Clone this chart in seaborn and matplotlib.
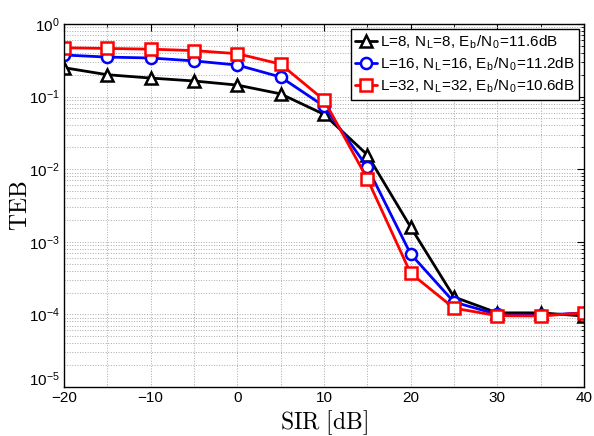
import matplotlib
matplotlib.use("Agg")
import matplotlib.pyplot as plt
import matplotlib.transforms as mtrans
import seaborn as sns
import numpy as np
import pandas as pd
from matplotlib.ticker import LogLocator, MultipleLocator, NullFormatter

sir = [-20, -15, -10, -5, 0, 5, 10, 15, 20, 25, 30, 35, 40]
teb_l8 = [0.25, 0.20, 0.18, 0.164, 0.144, 0.109, 0.057, 0.0158, 0.0016, 1.74e-4, 1.05e-4, 1.05e-4, 0.95e-4]
teb_l16 = [0.374, 0.35, 0.34, 0.31, 0.272, 0.186, 0.074, 0.0107, 6.8e-4, 1.48e-4, 1.0e-4, 0.97e-4, 1.05e-4]
teb_l32 = [0.47, 0.46, 0.45, 0.43, 0.39, 0.28, 0.09, 0.0074, 3.7e-4, 1.22e-4, 0.96e-4, 0.95e-4, 1.05e-4]
labels = [r'L=8, N$_\mathregular{L}$=8, E$_\mathregular{b}$/N$_\mathregular{0}$=11.6dB',
          r'L=16, N$_\mathregular{L}$=16, E$_\mathregular{b}$/N$_\mathregular{0}$=11.2dB',
          r'L=32, N$_\mathregular{L}$=32, E$_\mathregular{b}$/N$_\mathregular{0}$=10.6dB']

sns.set_style("white")
plt.rcParams['font.family'] = ['Liberation Sans', 'DejaVu Sans']
plt.rcParams['mathtext.fontset'] = 'cm'

fig = plt.figure(figsize=(5.94, 4.36), dpi=100)
ax = fig.add_axes([0.1077, 0.1124, 0.8753, 0.8326])

series = [(teb_l8, 'black', '^'), (teb_l16, 'blue', 'o'), (teb_l32, 'red', 's')]
for (vals, col, mk), lab in zip(series, labels):
    df = pd.DataFrame({'SIR': sir, 'TEB': vals})
    sns.lineplot(data=df, x='SIR', y='TEB', ax=ax, color=col, marker=mk,
                 markersize=8, markerfacecolor='white', markeredgecolor=col,
                 markeredgewidth=1.8, linewidth=2, label=lab)

ax.set_yscale('log')
ax.set_xlim(-20, 40)
ax.set_ylim(1e-5, 1)
ax.xaxis.set_major_locator(MultipleLocator(10))
ax.xaxis.set_minor_locator(MultipleLocator(5))
ax.yaxis.set_major_locator(LogLocator(base=10, numticks=10))
ax.yaxis.set_minor_locator(LogLocator(base=10, subs=np.arange(2, 10), numticks=20))
ax.yaxis.set_minor_formatter(NullFormatter())
ax.grid(True, which='both', linestyle=':', color='#aaaaaa', linewidth=0.7)
ax.tick_params(which='both', direction='in', top=True, right=True, labelsize=11,
               colors='black', pad=3)
ax.tick_params(which='major', length=5)
ax.tick_params(which='minor', length=2.5)
for s in ax.spines.values():
    s.set_color('black')
    s.set_linewidth(1)

ax.set_xlabel(r'$\mathrm{SIR\ [dB]}$', fontsize=17, color='black')
ax.set_ylabel(r'$\mathrm{TEB}$', fontsize=17, color='black')
ax.xaxis.set_label_coords(0.5, -0.058)
ax.yaxis.set_label_coords(-0.062, 0.5)

leg = ax.legend(loc='upper right', fontsize=11, frameon=True, fancybox=False,
                edgecolor='black', framealpha=1, borderpad=0.3, labelspacing=0.3,
                handlelength=1.4, handletextpad=0.2, borderaxespad=0.3)
leg.get_frame().set_linewidth(1)
for t in leg.get_texts():
    t.set_color('black')

fig.canvas.draw()
offset = mtrans.ScaledTranslation(0, 6 / 72, fig.dpi_scale_trans)
for tick in ax.yaxis.get_major_ticks():
    if np.isclose(tick.get_loc(), 1e-5):
        tick.label1.set_transform(tick.label1.get_transform() + offset)

fig.savefig('out.png', dpi=100)
